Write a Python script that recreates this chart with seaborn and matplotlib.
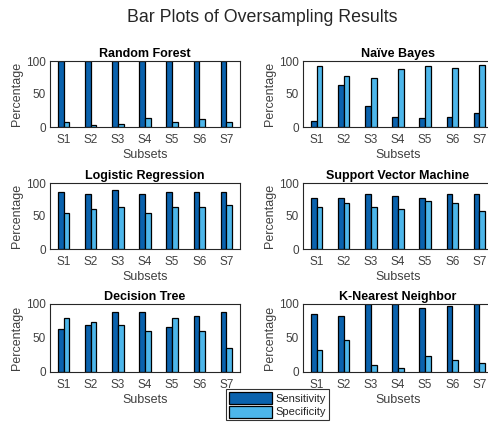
import numpy as np
import pandas as pd
import matplotlib
matplotlib.use("Agg")
import matplotlib.pyplot as plt
import seaborn as sns

subsets = ["S1", "S2", "S3", "S4", "S5", "S6", "S7"]
models = ["Random Forest", "Naïve Bayes", "Logistic Regression",
          "Support Vector Machine", "Decision Tree", "K-Nearest Neighbor"]

rf_sens = [100, 100, 100, 100, 100, 100, 100]
rf_spec = [7, 3.5, 5, 13.5, 7, 12, 7]
nb_sens = [9, 64, 32, 15, 14, 15, 21]
nb_spec = [93, 78, 74, 88, 93, 90, 94]
lr_sens = [86, 84, 89, 83, 86, 86, 86]
lr_spec = [54, 60, 64, 55, 64, 63, 66]
svm_sens = [78, 77, 84, 81, 78, 84, 84]
svm_spec = [64, 70, 64, 61, 73, 69, 58]
dt_sens = [63, 69, 88, 88, 66, 82, 88]
dt_spec = [79, 74, 69, 60, 80, 61, 36]
knn_sens = [86, 83, 100, 100, 94, 97, 100]
knn_spec = [33, 47, 10, 6, 24, 17, 13]

series = [(rf_sens, rf_spec), (nb_sens, nb_spec), (lr_sens, lr_spec),
          (svm_sens, svm_spec), (dt_sens, dt_spec), (knn_sens, knn_spec)]

sns.set_style("white")
plt.rcParams['font.family'] = ['Liberation Sans', 'DejaVu Sans']

dark = '#0a62ad'
light = '#4db6ea'
txt = '#404040'

W, H = 488, 428
fig = plt.figure(figsize=(W / 100, H / 100), dpi=100)

# pixel boxes: (left, top, right, bottom)
boxes = [(50, 61, 240, 127), (303, 61, 493, 127),
         (50, 183, 240, 249), (303, 183, 493, 249),
         (50, 304, 240, 372), (303, 304, 493, 372)]

axes = []
for (l, t, r, b), name, (sens, spec) in zip(boxes, models, series):
    ax = fig.add_axes([l / W, 1 - b / H, (r - l) / W, (b - t) / H])
    df = pd.DataFrame({
        "Subset": subsets * 2,
        "Value": list(sens) + list(spec),
        "Metric": ["Sensitivity"] * 7 + ["Specificity"] * 7,
    })
    sns.barplot(data=df, x="Subset", y="Value", hue="Metric",
                palette=[dark, light], saturation=1, width=0.42, ax=ax,
                edgecolor='black', linewidth=0.9, legend=(name == models[0]))
    ax.set_xlim(-0.5, 6.5)
    ax.set_ylim(0, 100)
    ax.set_yticks([0, 50, 100])
    ax.set_title(name, fontsize=9, fontweight='bold', color='black', pad=3)
    ax.set_xlabel("Subsets", fontsize=9, color=txt, labelpad=2)
    ax.set_ylabel("Percentage", fontsize=9, color=txt, labelpad=2)
    ax.tick_params(axis='both', labelsize=8.5, colors=txt, direction='in',
                   length=2, width=0.6)
    ax.tick_params(axis='x', pad=5)
    ax.tick_params(axis='y', pad=3)
    for s in ax.spines.values():
        s.set_visible(True)
        s.set_color('#262626')
        s.set_linewidth(0.8)
    axes.append(ax)

handles, labels = axes[0].get_legend_handles_labels()
axes[0].get_legend().remove()
leg = fig.legend(handles, labels, loc='upper left',
                 bbox_to_anchor=(226 / W, 1 - 389 / H),
                 fontsize=8, frameon=True, fancybox=False,
                 handlelength=3.9, handleheight=1.3, handletextpad=0.3,
                 borderpad=0.25, labelspacing=0.15, borderaxespad=0)
leg.get_frame().set_edgecolor('black')
leg.get_frame().set_linewidth(0.8)
for t in leg.get_texts():
    t.set_color('#262626')

fig.text(262 / W, 1 - 17 / H, "Bar Plots of Oversampling Results",
         ha='center', va='center', fontsize=12.8, color='#262626')

fig.savefig("out.png", dpi=100)
